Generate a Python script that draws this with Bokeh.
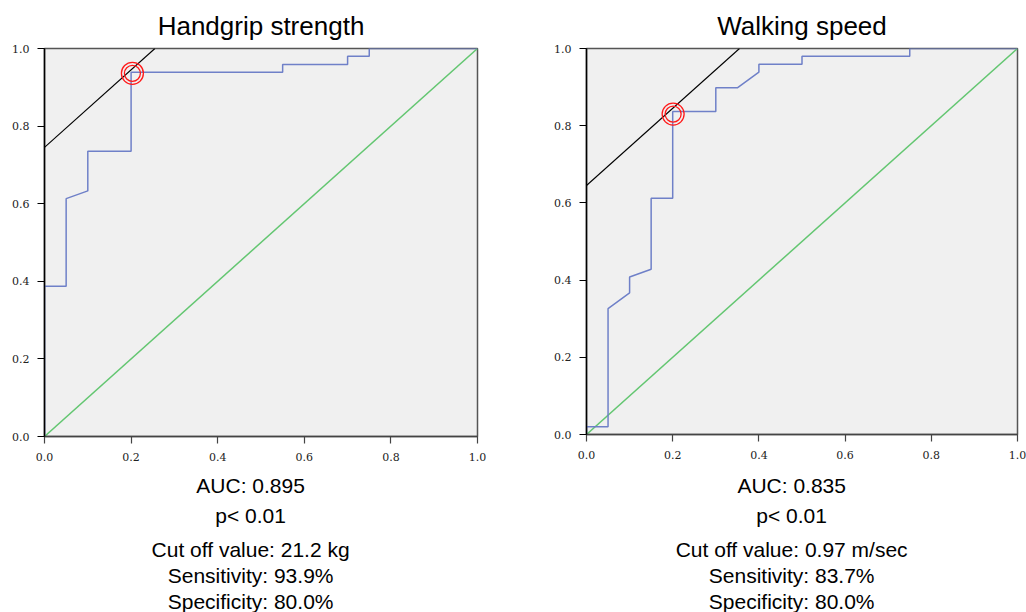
from bokeh.plotting import figure
from bokeh.layouts import row, column
from bokeh.models import Range1d, FixedTicker, PrintfTickFormatter, ColumnDataSource
from bokeh.core.properties import value
from bokeh.embed import file_html
from bokeh.resources import INLINE

# ---------------- data ----------------
ticks = [0.0, 0.2, 0.4, 0.6, 0.8, 1.0]

hg_title = "Handgrip strength"
hg_fpr = [0, 0, 0.05, 0.05, 0.10, 0.10, 0.20, 0.20, 0.55, 0.55, 0.70, 0.70, 0.75, 0.75, 1.0]
hg_tpr = [0, 0.387, 0.387, 0.613, 0.633, 0.735, 0.735, 0.939, 0.939, 0.959, 0.959, 0.98, 0.98, 1.0, 1.0]
hg_cut = (0.203, 0.936)
hg_tangent_b = 0.745
hg_texts = ["AUC: 0.895", "p< 0.01", "Cut off value: 21.2 kg", "Sensitivity: 93.9%", "Specificity: 80.0%"]

ws_title = "Walking speed"
ws_fpr = [0, 0, 0.05, 0.05, 0.10, 0.10, 0.15, 0.15, 0.20, 0.20, 0.30, 0.30, 0.35, 0.40, 0.40, 0.50, 0.50, 0.75, 0.75, 1.0]
ws_tpr = [0, 0.02, 0.02, 0.326, 0.367, 0.408, 0.428, 0.612, 0.612, 0.837, 0.837, 0.898, 0.898, 0.939, 0.959, 0.959, 0.98, 0.98, 1.0, 1.0]
ws_cut = (0.201, 0.83)
ws_tangent_b = 0.645
ws_texts = ["AUC: 0.835", "p< 0.01", "Cut off value: 0.97 m/sec", "Sensitivity: 83.7%", "Specificity: 80.0%"]

text_rows = [483.5, 513.5, 547.5, 573.5, 600]
text_center = 0.476

BLUE = "#6f80c8"
GREEN = "#63c671"
BG = "#f0f0f0"

TOP = 47
PANEL_BOTTOM = 468


def roc_panel(title, fpr, tpr, cut, tan_b, bl, fw, br, fh):
    p = figure(frame_width=fw, frame_height=fh, min_border_left=bl, min_border_right=br,
               min_border_top=TOP, min_border_bottom=PANEL_BOTTOM - TOP - fh,
               x_range=Range1d(0, 1), y_range=Range1d(0, 1),
               toolbar_location=None, output_backend="svg", title=title)
    p.background_fill_color = BG
    p.border_fill_color = "white"
    p.outline_line_color = "#555555"
    p.outline_line_width = 1.5
    p.grid.visible = False
    p.title.text_font = "Liberation Sans"
    p.title.text_font_size = "26px"
    p.title.text_font_style = "normal"
    p.title.text_color = "black"
    p.title.align = "center"
    p.title.standoff = 16
    for ax in (p.xaxis[0], p.yaxis[0]):
        ax.ticker = FixedTicker(ticks=ticks, minor_ticks=[])
        ax.formatter = PrintfTickFormatter(format="%.1f")
        ax.major_label_text_font = "DejaVu Serif"
        ax.major_label_text_font_size = "11px"
        ax.major_label_text_color = "#222222"
        ax.major_tick_out = 7
        ax.major_tick_in = 0
        ax.minor_tick_line_color = None
        ax.axis_line_width = 1.5
        ax.major_tick_line_width = 1.2
    p.yaxis[0].axis_line_color = "black"
    p.yaxis[0].major_tick_line_color = "black"
    p.yaxis[0].major_label_standoff = 8
    p.xaxis[0].axis_line_color = "#444444"
    p.xaxis[0].major_tick_line_color = "#444444"
    p.xaxis[0].major_label_standoff = 9

    # reference diagonal
    p.line(x=[0, 1], y=[0, 1], line_color=GREEN, line_width=1.5)
    # ROC curve
    p.line(x=fpr, y=tpr, line_color=BLUE, line_width=1.5)
    # tangent line (slope 1)
    p.line(x=[0, 1 - tan_b], y=[tan_b, 1], line_color="black", line_width=1.1)
    # cut-off marker (double circle)
    p.scatter(x=[cut[0]], y=[cut[1]], marker="circle", size=22, fill_color=None,
              line_color="#ff1a1a", line_width=1.3)
    p.scatter(x=[cut[0]], y=[cut[1]], marker="circle", size=16, fill_color=None,
              line_color="#ff1a1a", line_width=1.3)
    return p


def text_panel(bl, fw, br, texts):
    t = figure(frame_width=fw, frame_height=612 - PANEL_BOTTOM, min_border_left=bl, min_border_right=br,
               min_border_top=0, min_border_bottom=0,
               x_range=Range1d(0, 1), y_range=Range1d(612, PANEL_BOTTOM),
               toolbar_location=None, output_backend="svg")
    t.axis.visible = False
    t.grid.visible = False
    t.outline_line_color = None
    t.background_fill_color = "white"
    t.border_fill_color = "white"
    src = ColumnDataSource(dict(x=[text_center] * len(texts), y=text_rows, text=texts))
    t.text(x="x", y="y", text="text", source=src, text_align="center",
           text_baseline="alphabetic", text_font=value("Liberation Sans"),
           text_font_size="21px", text_color="black")
    return t


p1 = roc_panel(hg_title, hg_fpr, hg_tpr, hg_cut, hg_tangent_b, 44, 433, 51, 388)
p2 = roc_panel(ws_title, ws_fpr, ws_tpr, ws_cut, ws_tangent_b, 58, 431, 9, 386)
t1 = text_panel(44, 433, 51, hg_texts)
t2 = text_panel(58, 431, 9, ws_texts)

layout = row(column(p1, t1), column(p2, t2))
open("out.html", "w").write(file_html(layout, INLINE))
